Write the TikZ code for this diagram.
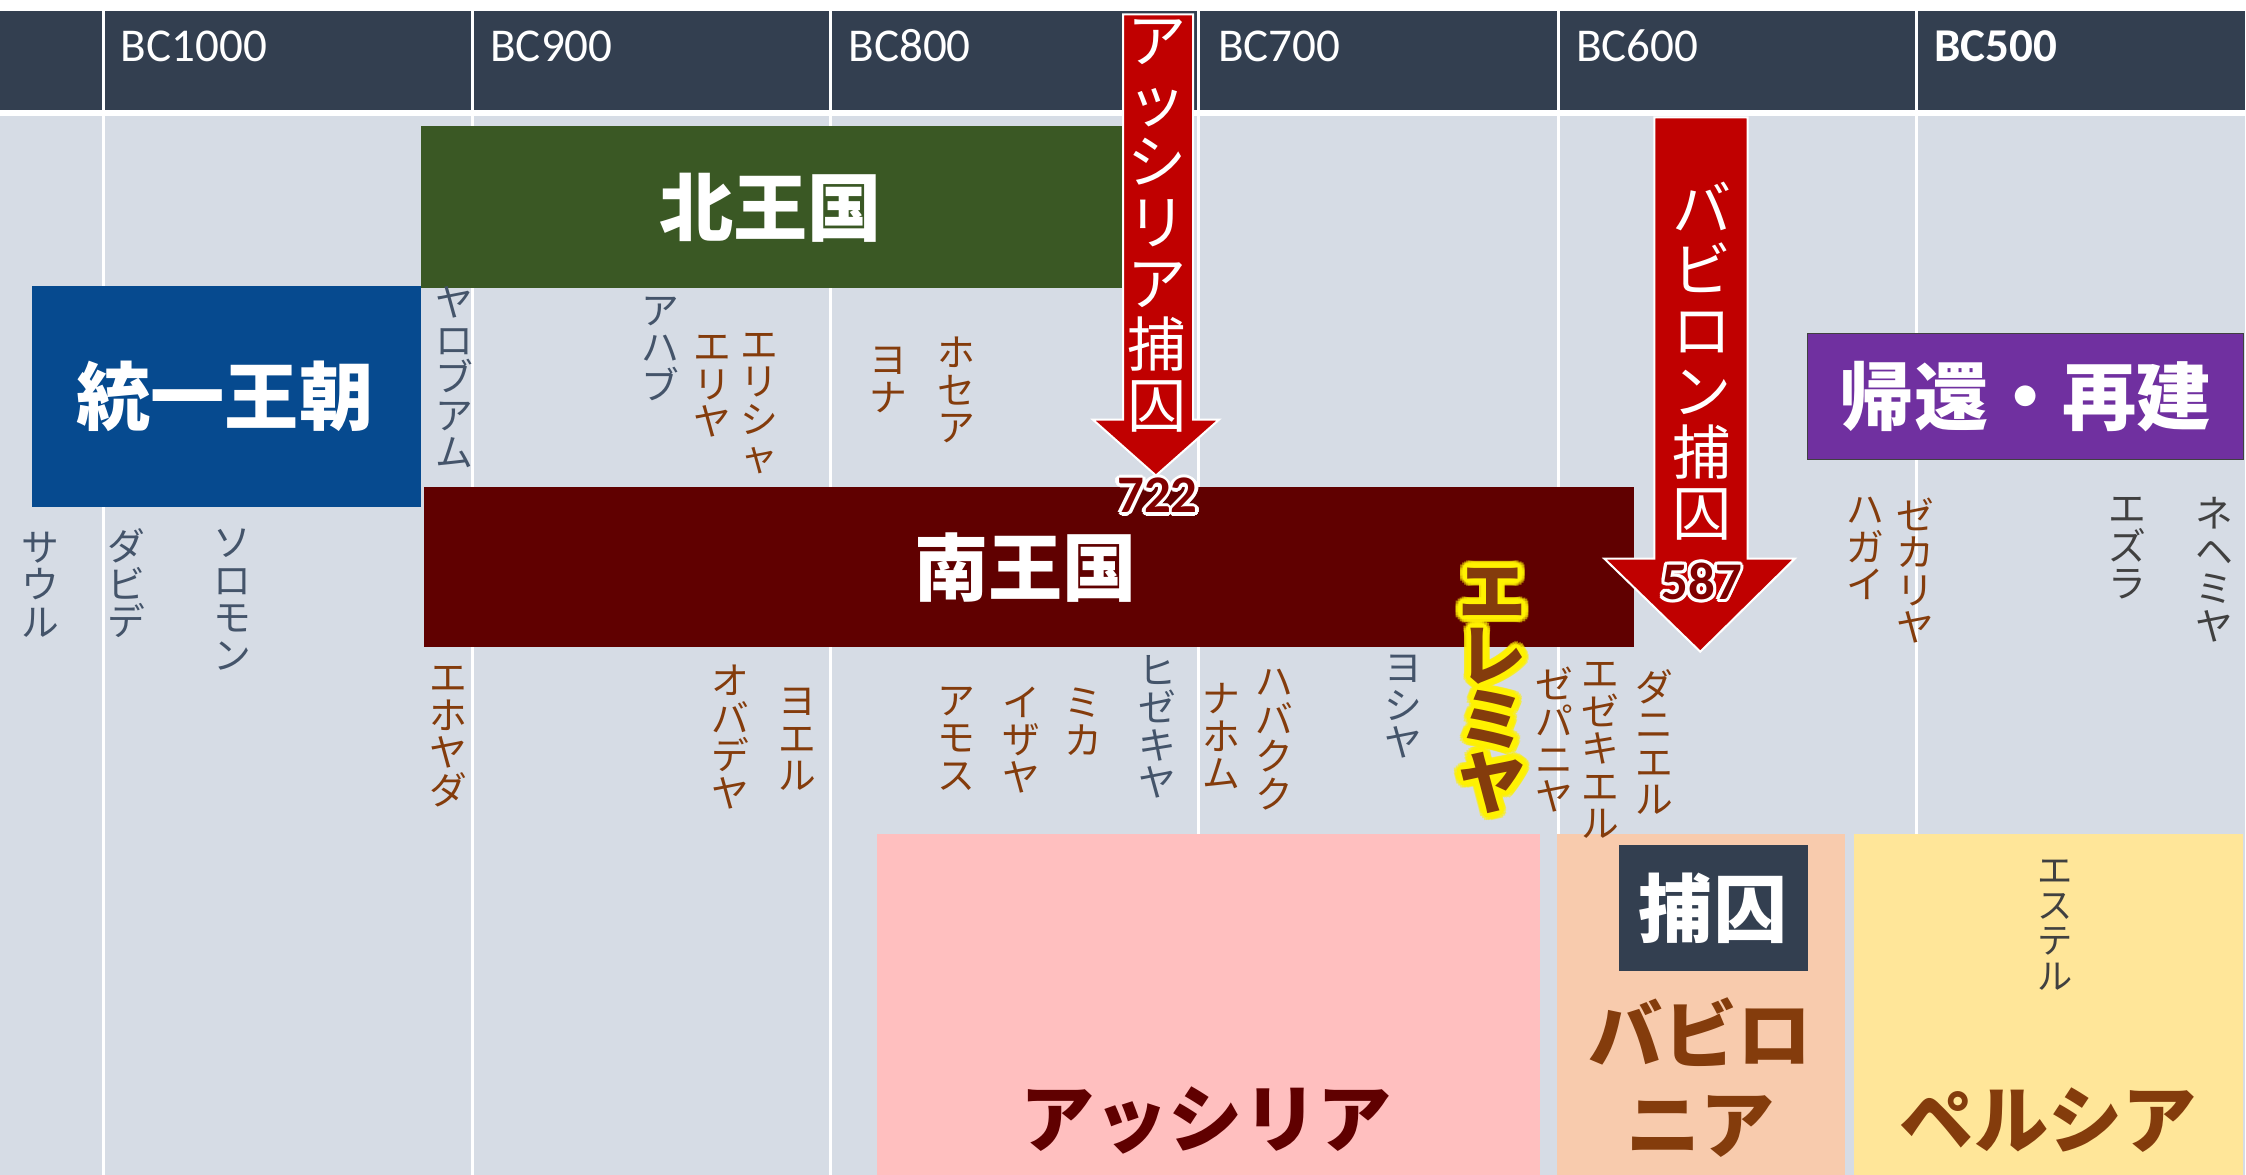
\documentclass[tikz,border=0pt]{standalone}
\usepackage{fontspec}
\newfontfamily\jp{Noto Sans CJK JP}
\newfontfamily\lat{Carlito}
\definecolor{hdr}{HTML}{333F50}
\definecolor{bodyc}{HTML}{D6DCE5}
\definecolor{nm}{HTML}{44546A}
\definecolor{br}{HTML}{843C0C}
\definecolor{dk}{HTML}{404040}
\definecolor{grn}{HTML}{3A5824}
\definecolor{blu}{HTML}{064A8F}
\definecolor{srd}{HTML}{600000}
\definecolor{pur}{HTML}{7030A0}
\definecolor{arr}{HTML}{C00000}
\definecolor{numred}{HTML}{800000}
\definecolor{pnk}{HTML}{FFBFBF}
\definecolor{bab}{HTML}{F8CBAD}
\definecolor{per}{HTML}{FFE699}
\setlength{\lineskiplimit}{-100pt}
\tikzset{
 vname/.style={align=center, anchor=north, inner sep=0pt, font=\jp\fontsize{15}{14.9}\selectfont},
 gname/.style={vname, text=nm},
 bname/.style={vname, text=br},
 dname/.style={vname, text=dk},
 big/.style={inner sep=0pt, font=\jp\bfseries\fontsize{29.5}{35.7}\selectfont},
 hdrtxt/.style={anchor=base west, inner sep=0pt, text=white, font=\lat\fontsize{18.7}{20}\selectfont},
 arrowshape/.style={fill=arr, draw=white, line width=0.8pt, line join=miter},
 arrtxt/.style={align=center, anchor=north, inner sep=0pt, text=white, font=\jp\fontsize{23.5}{24.2}\selectfont},
 num/.style={inner sep=0pt, font=\lat\bfseries\fontsize{21}{22}\selectfont},
 jer/.style={align=center, anchor=north, inner sep=0pt, font=\jp\bfseries\fontsize{27}{25.5}\selectfont},
 gridline/.style={white, line width=1.2pt},
}
\begin{document}
\begin{tikzpicture}[x=0.02cm,y=-0.02cm]
\useasboundingbox (0,0) rectangle (1568,820);
\fill[white] (0,0) rectangle (1568,820);
% header and body bands
\fill[hdr] (0,8) rectangle (1567,77);
\fill[bodyc] (0,81) rectangle (1567,820);
\foreach \x in {72,330,580,837,1088,1338} \draw[gridline] (\x,8) -- (\x,820);
% header labels
\node[hdrtxt] (h1000) at (84,43) {BC1000};
\node[hdrtxt] (h900) at (342,43) {BC900};
\node[hdrtxt] (h800) at (592,43) {BC800};
\node[hdrtxt] (h700) at (850,43) {BC700};
\node[hdrtxt] (h600) at (1100,43) {BC600};
\node[hdrtxt, font=\lat\bfseries\fontsize{18.7}{20}\selectfont] (h500) at (1350,43) {BC500};
% empire regions
\fill[pnk] (612,582) rectangle (1075,820);
\fill[bab] (1087,582) rectangle (1288,820);
\fill[per] (1294,582) rectangle (1566,820);
\node[big, text=srd] (assyria) at (842,782) {アッシリア};
\node[big, text=br, align=center] (babylonia) at (1187,752) {バビロ\\ニア};
\node[big, text=br] (persia) at (1430,782) {ペルシア};
\fill[hdr] (1130,590) rectangle (1262,678);
\node[big, text=white] (captivity) at (1196,634) {捕囚};
% kingdoms
\fill[grn] (294,88) rectangle (783,201);
\node[big, text=white] (north) at (538,145) {北王国};
\fill[blu] (22,200) rectangle (294,354);
\node[big, text=white] (united) at (157,277) {統一王朝};
\fill[srd] (296,340) rectangle (1141,452);
\node[big, text=white] (south) at (716,396) {南王国};
\filldraw[fill=pur, draw=dk, line width=0.4pt] (1262,233) rectangle (1566,321);
\node[big, text=white] (return) at (1414,277) {帰還・再建};
% captivity arrows
\draw[arrowshape] (784,10) -- (833,10) -- (833,293) -- (851,293) -- (807,332) -- (763,293) -- (784,293) -- cycle;
\node[arrtxt] (assytxt) at (808,13) {ア\\ッ\\シ\\リ\\ア\\捕\\囚};
\draw[arrowshape] (1155,82) -- (1220,82) -- (1220,390) -- (1253,390) -- (1187,455) -- (1120,390) -- (1155,390) -- cycle;
\node[arrtxt] (babtxt) at (1188,127) {バ\\ビ\\ロ\\ン\\捕\\囚};
\foreach \a in {0,30,...,330}{
  \node[num, text=white] at ({808+2.3*cos(\a)},{346+2.3*sin(\a)}) {722};
  \node[num, text=white] at ({1188+2.3*cos(\a)},{406+2.3*sin(\a)}) {587};
}
\node[num, text=numred] (y722) at (808,346) {722};
\node[num, text=numred] (y587) at (1188,406) {587};
% kings (grey)
\node[gname] (saul) at (28,371) {サ\\ウ\\ル};
\node[gname] (david) at (88,369) {ダ\\ビ\\デ};
\node[gname] (solomon) at (162,369) {ソ\\ロ\\モ\\ン};
\node[gname] (jeroboam) at (317,200) {ヤ\\ロ\\ブ\\ア\\ム};
\node[gname] (ahab) at (461,207) {ア\\ハ\\ブ};
\node[gname] (hezekiah) at (808,457) {ヒ\\ゼ\\キ\\ヤ};
\node[gname] (josiah) at (980,457) {ヨ\\シ\\ヤ};
% prophets (brown)
\node[bname] (elijah) at (497,234) {エ\\リ\\ヤ};
\node[bname] (elisha) at (530,232) {エ\\リ\\シ\\ャ};
\node[bname] (jonah) at (620,242) {ヨ\\ナ};
\node[bname] (hosea) at (668,235) {ホ\\セ\\ア};
\node[bname] (jehoiada) at (313,465) {エ\\ホ\\ヤ\\ダ};
\node[bname] (obadiah) at (510,464) {オ\\バ\\デ\\ヤ};
\node[bname] (joel) at (557,480) {ヨ\\エ\\ル};
\node[bname] (amos) at (668,479) {ア\\モ\\ス};
\node[bname] (isaiah) at (713,479) {イ\\ザ\\ヤ};
\node[bname] (micah) at (756,480) {ミ\\カ};
\node[bname] (nahum) at (853,477) {ナ\\ホ\\ム};
\node[bname] (habakkuk) at (890,467) {ハ\\バ\\ク\\ク};
\node[bname] (zephaniah) at (1085,465) {ゼ\\パ\\ニ\\ヤ};
\node[bname] (ezekiel) at (1117,462) {エ\\ゼ\\キ\\エ\\ル};
\node[bname] (daniel) at (1155,467) {ダ\\ニ\\エ\\ル};
\node[bname] (haggai) at (1302,347) {ハ\\ガ\\イ};
\node[bname] (zechariah) at (1337,347) {ゼ\\カ\\リ\\ヤ};
% post-exilic (dark grey)
\node[dname] (ezra) at (1485,347) {エ\\ズ\\ラ};
\node[dname] (nehemiah) at (1546,347) {ネ\\ヘ\\ミ\\ヤ};
\node[dname, font=\jp\fontsize{14}{14}\selectfont] (esther) at (1435,600) {エ\\ス\\テ\\ル};
% Jeremiah highlighted with soft yellow glow
\foreach \a in {0,20,...,340}{
  \node[jer, text=yellow, opacity=0.55] at ({1042+5*cos(\a)},{396+5*sin(\a)}) {エ\\レ\\ミ\\ヤ};
  \node[jer, text=yellow] at ({1042+2.8*cos(\a)},{396+2.8*sin(\a)}) {エ\\レ\\ミ\\ヤ};
}
\node[jer, text=br] (jeremiah) at (1042,396) {エ\\レ\\ミ\\ヤ};
\end{tikzpicture}
\end{document}
